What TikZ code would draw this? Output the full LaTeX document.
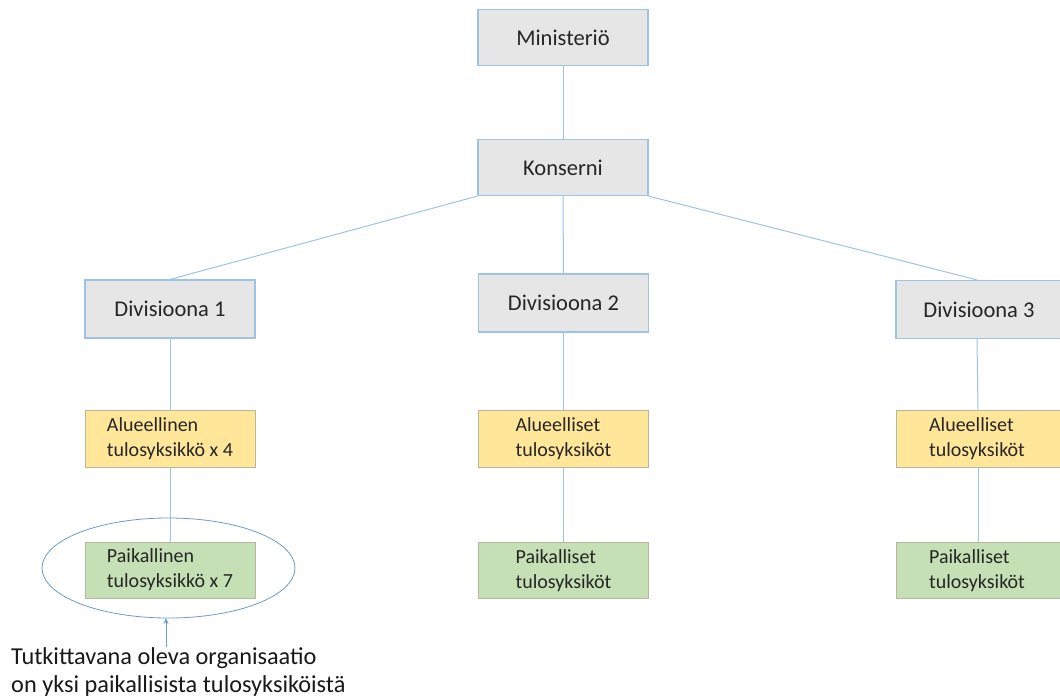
\documentclass[tikz,border=0pt]{standalone}
\usepackage{fontspec}
\setmainfont{Carlito}
\usetikzlibrary{arrows.meta}
\definecolor{greyfill}{HTML}{E7E6E6}
\definecolor{yellowfill}{HTML}{FFE699}
\definecolor{greenfill}{HTML}{C5E0B4}
\definecolor{boxline}{HTML}{9DC3E6}
\definecolor{oliveline}{HTML}{A5A58A}
\definecolor{conn}{HTML}{9DC3E6}
\definecolor{ellline}{HTML}{6E9AD0}
\tikzset{
  greybox/.style={draw=boxline, line width=1.2pt, fill=greyfill, minimum width=170pt, minimum height=56pt, font=\fontsize{22.5}{26}\selectfont, text=black!85},
  yellowbox/.style={draw=oliveline!80, line width=1pt, fill=yellowfill, minimum width=170pt, minimum height=57pt, font=\fontsize{20}{25}\selectfont, align=left, text=black!85},
  greenbox/.style={draw=oliveline!80, line width=1pt, fill=greenfill, minimum width=170pt, minimum height=56pt, font=\fontsize{20}{25}\selectfont, align=left, text=black!85},
  connector/.style={draw=conn, line width=1pt},
  note/.style={font=\fontsize{24.3}{28}\selectfont, align=left, text=black!90, anchor=north west, inner sep=0pt}
}
\begin{document}
\begin{tikzpicture}[x=1pt,y=-1pt]
\useasboundingbox (0,0) rectangle (1060,698);
\clip (0,0) rectangle (1060,698);
\node[greybox] (min) at (563,37.5) {Ministeriö};
\node[greybox] (kon) at (563,167.5) {Konserni};
\node[greybox, minimum height=58pt] (d1) at (170,309) {Divisioona 1};
\node[greybox, minimum height=58pt] (d2) at (563.5,303) {Divisioona 2};
\node[greybox, minimum height=58pt] (d3) at (981,309.5) {\hspace*{-4pt}Divisioona 3};
\node[yellowbox] (a1) at (170,438.5) {Alueellinen\\tulosyksikkö x 4};
\node[yellowbox] (a2) at (563.5,438.5) {Alueelliset\\tulosyksiköt};
\node[yellowbox] (a3) at (981,438.5) {\hspace*{-8pt}\begin{tabular}{@{}l@{}}Alueelliset\\tulosyksiköt\end{tabular}};
\node[greenbox] (p1) at (170,570) {Paikallinen\\tulosyksikkö x 7};
\node[greenbox] (p2) at (563.5,570.5) {Paikalliset\\tulosyksiköt};
\node[greenbox] (p3) at (981,570.5) {\hspace*{-8pt}\begin{tabular}{@{}l@{}}Paikalliset\\tulosyksiköt\end{tabular}};
\draw[connector] (min.south) -- (kon.north);
\draw[connector] (kon.south west) -- (d1.north);
\draw[connector] (kon.south) -- (d2.north);
\draw[connector] (kon.south east) -- (d3.north -| 977,0);
\draw[connector] (d1.south) -- (a1.north);
\draw[connector] (a1.south) -- (p1.north);
\draw[connector] (d2.south) -- (a2.north);
\draw[connector] (a2.south) -- (p2.north);
\draw[connector] (d3.south -| 977,0) -- (a3.north -| 978,0);
\draw[connector] (a3.south -| 978,0) -- (p3.north -| 978,0);
\draw[draw=ellline, line width=0.8pt] (168.5,568) ellipse [x radius=126.5pt, y radius=50pt];
\coordinate (ellbot) at (166,618);
\node[note] (txt) at (11,647) {Tutkittavana oleva organisaatio\\on yksi paikallisista tulosyksiköistä};
\draw[draw=ellline, line width=0.8pt, -{Stealth[length=6pt,width=5pt]}] (166,647) -- (ellbot);
\end{tikzpicture}
\end{document}
